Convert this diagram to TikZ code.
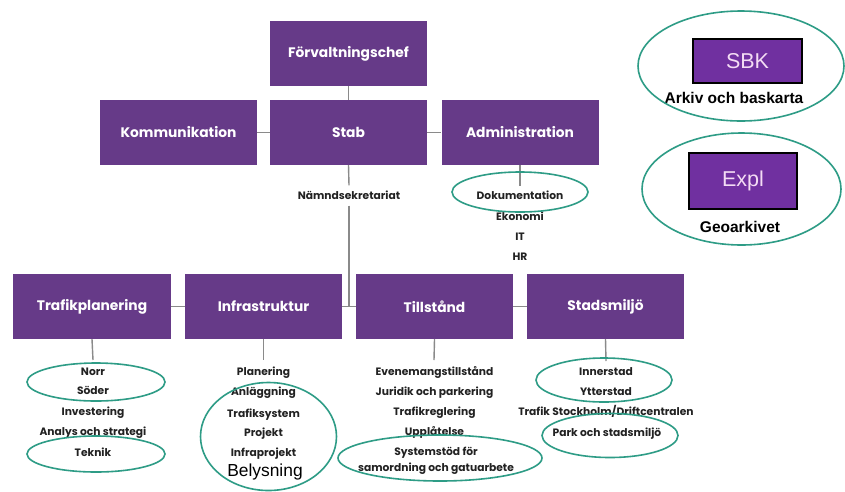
\documentclass[tikz,border=0pt]{standalone}
\usepackage{fontspec}
\setmainfont{Poppins}
\newfontfamily\arialfont{Liberation Sans}
\definecolor{orgpurple}{HTML}{663A88}
\definecolor{sbkpurple}{HTML}{7030A0}
\definecolor{ringteal}{HTML}{2E9C86}
\definecolor{linkgray}{HTML}{8A8A8A}
\definecolor{itemtext}{HTML}{222222}
\definecolor{sbktext}{HTML}{F4DCF4}
\begin{document}
\begin{tikzpicture}[x=1pt,y=-1pt,
  orgbox/.style={fill=orgpurple,draw=none,minimum width=157pt,minimum height=65pt,inner sep=0pt,text=white,font=\fontsize{13.8}{15}\selectfont\bfseries},
  item/.style={anchor=base,inner sep=0pt,text=itemtext,font=\fontsize{10.7}{12}\selectfont\bfseries},
  link/.style={draw=linkgray,line width=1.4pt},
  ring/.style={draw=ringteal,line width=1.6pt},
  sbkbox/.style={fill=sbkpurple,draw=black,line width=2.5pt,inner sep=0pt,text=sbktext,font=\arialfont\fontsize{21.5}{23}\selectfont},
  sbklabel/.style={inner sep=0pt,text=black,font=\arialfont\fontsize{15.5}{17}\selectfont\bfseries}]
\useasboundingbox (0,0) rectangle (845,491);
\fill[white] (0,0) rectangle (845,491);

% top boxes
\node[orgbox] (chef) at (348.5,53.5) {Förvaltningschef};
\node[orgbox] (stab) at (348.5,132.5) {Stab};
\node[orgbox] (komm) at (178.5,132.5) {Kommunikation};
\node[orgbox] (adm) at (520,132.5) {Administration};

% bottom boxes
\node[orgbox,minimum width=158pt] (tp) at (92,306.5) {Trafikplanering};
\node[orgbox] (infra) at (263.5,306.5) {Infrastruktur};
\node[orgbox] (till) at (434.5,306.5) {Tillstånd};
\node[orgbox] (stad) at (605.5,306.5) {Stadsmiljö};

% Nämndsekretariat
\node[inner sep=0pt,text=itemtext,font=\fontsize{10.7}{12}\selectfont\bfseries,minimum height=20pt] (nam) at (349,195.5) {Nämndsekretariat};
\coordinate (junc) at (349,306.5);

% connectors
\draw[link] (chef) -- (stab);
\draw[link] (komm) -- (stab);
\draw[link] (stab) -- (adm);
\draw[link] (stab.south) -- (nam.north);
\draw[link] (nam.south) -- (junc);
\draw[link] (tp) -- (infra);
\draw[link] (infra) -- (till);
\draw[link] (till) -- (stad);

\coordinate (admend) at (520,186);
\draw[link] (adm.south) -- (admend);
\coordinate (tpend) at (93,360);
\draw[link] (tp.south) -- (tpend);
\coordinate (infraend) at (263.5,360);
\draw[link] (infra.south) -- (infraend);
\coordinate (tillend) at (434,360);
\draw[link] (till.south) -- (tillend);
\coordinate (stadend) at (606,361);
\draw[link] (stad.south) -- (stadend);

% Administration list
\node[item] (ad1) at (520,199.5) {Dokumentation};
\node[item] (ad2) at (520,220) {Ekonomi};
\node[item] (ad3) at (520,240.5) {IT};
\node[item] (ad4) at (520,260.5) {HR};

% Trafikplanering list
\node[item] (tp1) at (93,375.5) {Norr};
\node[item] (tp2) at (93,394) {Söder};
\node[item] (tp3) at (93,415.5) {Investering};
\node[item] (tp4) at (93,435.5) {Analys och strategi};
\node[item] (tp5) at (93,456.5) {Teknik};

% Infrastruktur list
\node[item] (in1) at (263.5,375.5) {Planering};
\node[item] (in2) at (263.5,395.5) {Anläggning};
\node[item] (in3) at (263.5,417) {Trafiksystem};
\node[item] (in4) at (263.5,436.5) {Projekt};
\node[item] (in5) at (263.5,456.5) {Infraprojekt};
\node[anchor=base,inner sep=0pt,text=black,font=\arialfont\fontsize{17.4}{19}\selectfont] (in6) at (265,476.5) {Belysning};

% Tillstånd list
\node[item] (ti1) at (434.5,375.5) {Evenemangstillstånd};
\node[item] (ti2) at (434.5,395.5) {Juridik och parkering};
\node[item] (ti3) at (434.5,415.5) {Trafikreglering};
\node[item] (ti4) at (434.5,435.5) {Upplåtelse};
\node[item] (ti5) at (436,455) {Systemstöd för};
\node[item] (ti6) at (436,471) {samordning och gatuarbete};

% Stadsmiljö list
\node[item] (st1) at (606,375.5) {Innerstad};
\node[item] (st2) at (606,395.5) {Ytterstad};
\node[item] (st3) at (606,415.5) {Trafik Stockholm/Driftcentralen};
\node[item] (st4) at (607,436.5) {Park och stadsmiljö};

% SBK / Expl
\node[sbkbox,minimum width=109pt,minimum height=44pt] (sbk) at (747.5,61) {SBK};
\node[sbklabel] (sbkl) at (734,98) {Arkiv och baskarta};
\node[sbkbox,minimum width=108pt,minimum height=56pt] (expl) at (743,181) {Expl};
\node[sbklabel] (explb) at (740,227) {Geoarkivet};

% rings
\draw[ring] (741,66) ellipse [x radius=103, y radius=55];
\draw[ring] (741.5,189) ellipse [x radius=99.5, y radius=56];
\draw[ring] (520,192) ellipse [x radius=68, y radius=20];
\draw[ring] (96,382) ellipse [x radius=69, y radius=19];
\draw[ring] (96,454) ellipse [x radius=69, y radius=18];
\draw[ring] (268.5,436.5) ellipse [x radius=68, y radius=54];
\draw[ring] (440,458) ellipse [x radius=102, y radius=23];
\draw[ring] (604,380) ellipse [x radius=68, y radius=22];
\draw[ring] (610,435.5) ellipse [x radius=68, y radius=22];
\end{tikzpicture}
\end{document}
